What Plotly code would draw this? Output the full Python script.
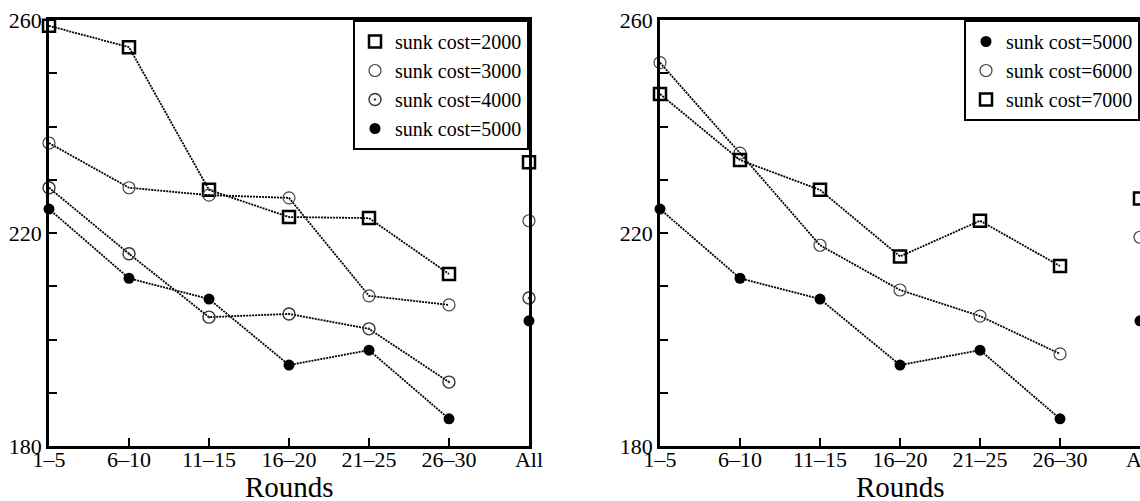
import plotly.graph_objects as go
from plotly.subplots import make_subplots

rounds = ["1–5", "6–10", "11–15", "16–20", "21–25", "26–30"]
all_label = "All"
categories = rounds + [all_label]

# Left panel
sc2000 = [258.9, 254.9, 228.1, 223.0, 222.8, 212.3]
sc2000_all = 233.3
sc3000 = [236.9, 228.5, 227.1, 226.6, 208.2, 206.5]
sc3000_all = 222.3
sc4000 = [228.5, 216.1, 204.2, 204.8, 202.0, 192.0]
sc4000_all = 207.8
sc5000 = [224.5, 211.5, 207.6, 195.2, 198.0, 185.1]
sc5000_all = 203.5

# Right panel
sc6000 = [252.0, 235.0, 217.7, 209.3, 204.4, 197.3]
sc6000_all = 219.2
sc7000 = [246.1, 233.7, 228.1, 215.6, 222.3, 213.8]
sc7000_all = 226.5

y_ticks = [180, 190, 200, 210, 220, 230, 240, 250, 260]
y_labels = ["180", "", "", "", "220", "", "", "", "260"]
x_title = "Rounds"

FONT = "Liberation Serif"
LINE_DASH = "2px,1px"

styles = {
    "square": dict(symbol="square-open", size=12, color="black", line=dict(width=2.5, color="black")),
    "open": dict(symbol="circle-open", size=12, color="#444", line=dict(width=1.2, color="#444")),
    "dot": dict(symbol="circle-open-dot", size=12, color="#333", line=dict(width=1.4, color="#333")),
    "filled": dict(symbol="circle", size=11, color="black", line=dict(width=0)),
}

fig = make_subplots(rows=1, cols=2, horizontal_spacing=0.1)


def add_series(name, vals, allv, style, col, legend):
    fig.add_trace(go.Scatter(
        x=rounds, y=vals, mode="lines+markers",
        line=dict(color="black", width=1.8, dash=LINE_DASH),
        marker=styles[style], showlegend=False, cliponaxis=False,
    ), row=1, col=col)
    fig.add_trace(go.Scatter(
        x=[all_label], y=[allv], mode="markers",
        marker=styles[style], showlegend=False, cliponaxis=False,
    ), row=1, col=col)
    fig.add_trace(go.Scatter(
        x=[None], y=[None], mode="markers", name=name,
        marker=styles[style], showlegend=True, legend=legend,
    ), row=1, col=col)


add_series("sunk cost=2000", sc2000, sc2000_all, "square", 1, "legend")
add_series("sunk cost=3000", sc3000, sc3000_all, "open", 1, "legend")
add_series("sunk cost=4000", sc4000, sc4000_all, "dot", 1, "legend")
add_series("sunk cost=5000", sc5000, sc5000_all, "filled", 1, "legend")

add_series("sunk cost=5000", sc5000, sc5000_all, "filled", 2, "legend2")
add_series("sunk cost=6000", sc6000, sc6000_all, "open", 2, "legend2")
add_series("sunk cost=7000", sc7000, sc7000_all, "square", 2, "legend2")

W = 1140
dom1 = [49 / W, 529 / W]
dom2 = [660 / W, 1.0]

axis_common = dict(
    showline=True, mirror=True, linecolor="black", linewidth=2.5,
    showgrid=False, zeroline=False, automargin=False,
    tickfont=dict(family=FONT, size=22, color="black"),
)

for i, dom in ((1, dom1), (2, dom2)):
    xname = "xaxis" if i == 1 else "xaxis2"
    yname = "yaxis" if i == 1 else "yaxis2"
    fig.layout[xname].update(
        type="category", categoryorder="array", categoryarray=categories,
        range=[0, 6], domain=dom, ticks="inside", ticklen=8, tickwidth=2,
        tickcolor="black", ticklabelstandoff=-8,
        **axis_common,
    )
    fig.layout[yname].update(
        range=[180, 260], tickvals=y_ticks, ticktext=y_labels,
        ticks="inside", ticklen=8, tickwidth=2, tickcolor="black",
        **axis_common,
    )
    fig.add_annotation(
        text=x_title, xref="paper", yref="paper",
        x=(dom[0] + dom[1]) / 2, y=0, yshift=-41,
        xanchor="center", yanchor="middle", showarrow=False,
        font=dict(family=FONT, size=29, color="black"),
    )

legend_common = dict(
    bgcolor="white", bordercolor="black", borderwidth=2,
    font=dict(family=FONT, size=20, color="black"),
    xanchor="right", yanchor="top", y=1.0, itemwidth=30,
    tracegroupgap=0,
)

fig.update_layout(
    width=1140, height=501,
    margin=dict(l=0, r=0, t=20, b=55),
    paper_bgcolor="white", plot_bgcolor="white",
    legend=dict(x=dom1[1], **legend_common),
    legend2=dict(x=dom2[1], **legend_common),
    font=dict(family=FONT, color="black"),
)

fig.write_html("out.html", config={"displayModeBar": False},
               post_script="document.body.style.margin='0';")
